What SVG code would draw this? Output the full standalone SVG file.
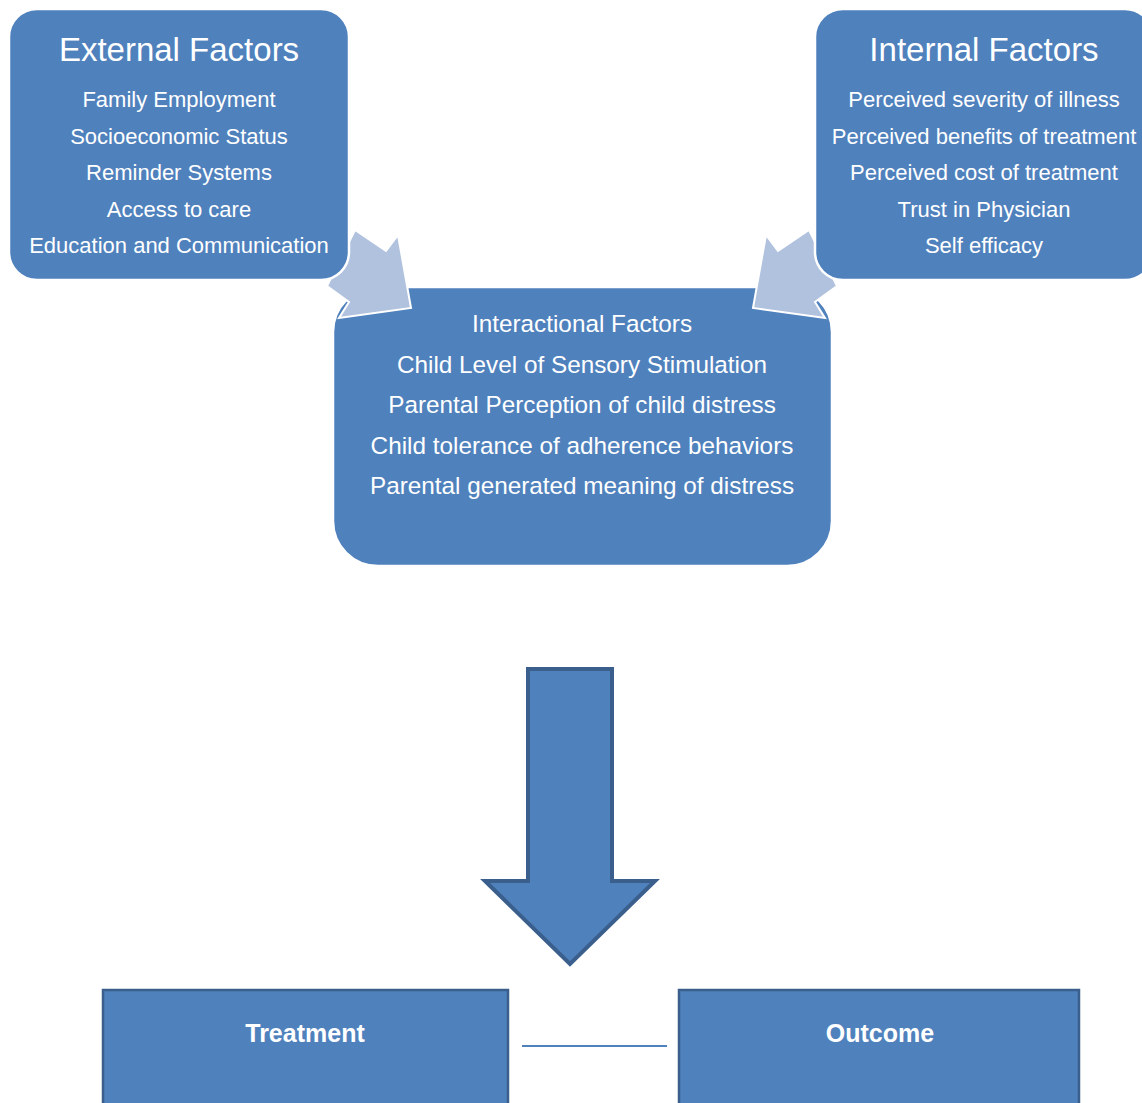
<svg xmlns="http://www.w3.org/2000/svg" width="1142" height="1103" viewBox="0 0 1142 1103">
<style>
.box{fill:#4F81BD;stroke:#ffffff;stroke-width:2.5}
.sq{fill:#4F81BD;stroke:#3B5F8C;stroke-width:2.5}
.t{font-family:"Liberation Sans",Arial,sans-serif;fill:#ffffff;text-anchor:middle}
.title{font-size:33px}
.item{font-size:22px}
.mid{font-size:24.3px}
.bot{font-size:25px;font-weight:bold}
.conv{fill:#B1C2DE;stroke:#ffffff;stroke-width:2}
</style>
<rect width="1142" height="1103" fill="#ffffff"/>
<g id="interactional">
<rect class="box" x="333" y="287" width="499" height="279" rx="45" ry="45"/>
<text class="t mid" x="582" y="332">Interactional Factors</text>
<text class="t mid" x="582" y="373">Child Level of Sensory Stimulation</text>
<text class="t mid" x="582" y="413">Parental Perception of child distress</text>
<text class="t mid" x="582" y="454">Child tolerance of adherence behaviors</text>
<text class="t mid" x="582" y="494">Parental generated meaning of distress</text>
</g>
<g id="connectors">
<polygon class="conv" points="355,230 386,251 398,235 411,308 339,318 349,302 327,286"/>
<polygon class="conv" points="809,230 778,251 766,235 753,308 825,318 815,302 837,286"/>
<polygon points="528,669 612,669 612,881 655,881 570,964 485,881 528,881" fill="#4F81BD" stroke="#3B5F8C" stroke-width="4"/>
<line x1="522" y1="1046" x2="667" y2="1046" stroke="#4F81BD" stroke-width="2"/>
</g>
<g id="external">
<rect class="box" x="9" y="9" width="340" height="271" rx="28" ry="28"/>
<text class="t title" x="179" y="61">External Factors</text>
<text class="t item" x="179" y="107">Family Employment</text>
<text class="t item" x="179" y="144">Socioeconomic Status</text>
<text class="t item" x="179" y="180">Reminder Systems</text>
<text class="t item" x="179" y="217">Access to care</text>
<text class="t item" x="179" y="253">Education and Communication</text>
</g>
<g id="internal">
<rect class="box" x="815" y="9" width="338" height="271" rx="28" ry="28"/>
<text class="t title" x="984" y="61">Internal Factors</text>
<text class="t item" x="984" y="107">Perceived severity of illness</text>
<text class="t item" x="984" y="144">Perceived benefits of treatment</text>
<text class="t item" x="984" y="180">Perceived cost of treatment</text>
<text class="t item" x="984" y="217">Trust in Physician</text>
<text class="t item" x="984" y="253">Self efficacy</text>
</g>
<g id="treatment">
<rect class="sq" x="103" y="990" width="405" height="125"/>
<text class="t bot" x="305" y="1042">Treatment</text>
</g>
<g id="outcome">
<rect class="sq" x="679" y="990" width="400" height="125"/>
<text class="t bot" x="880" y="1042">Outcome</text>
</g>
</svg>
